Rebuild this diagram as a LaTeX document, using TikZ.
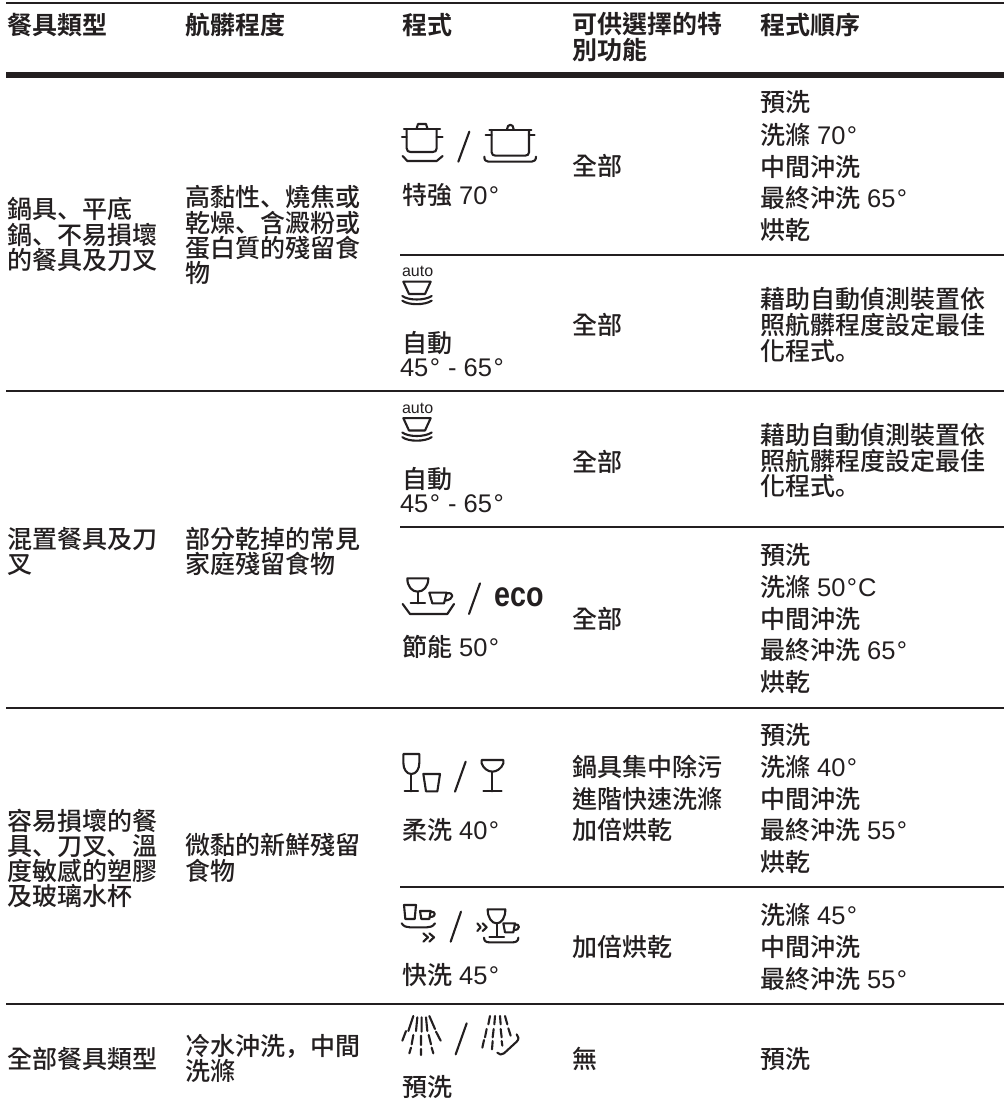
\documentclass[tikz,border=0pt]{standalone}
\usepackage{fontspec}
\setmainfont{Noto Sans CJK TC Medium}
\newfontfamily\cjkb{Noto Sans CJK TC Bold}
\newfontfamily\pctf{Noto Sans CJK SC Medium}
\newfontfamily\latf{Liberation Sans}
\newfontfamily\latb{Liberation Sans Bold}
\newcommand\lat[1]{{\latf\fontsize{25.5}{26}\selectfont{}#1}}
\newcommand\pct[1]{{\pctf{}#1}}
\catcode`\°=\active
\def°{\kern1.5pt\char"00B0\kern1pt\relax}
\definecolor{ink}{HTML}{231F20}
\newcounter{tn}
\newcommand\TT[3]{\stepcounter{tn}\node[txt] (t\arabic{tn}) at (#1,#2) {#3};}
\newcommand\TB[3]{\stepcounter{tn}\node[txt,font=\fontsize{25}{26}\cjkb] (t\arabic{tn}) at (#1,#2) {#3};}
\newcommand\autoicon[2]{%
\begin{scope}[shift={(#1,#2)},x=0.33333pt,y=-0.33333pt,icon]
\stepcounter{tn}\node[anchor=base west,inner sep=0,font=\fontsize{16}{16}\latf,text=ink] (t\arabic{tn}) at (33,560) {auto};
\draw (40,575) -- (122,575) -- (105,612) -- (57,612) -- cycle;
\draw (37,618) .. controls (55,632) and (105,632) .. (125,618);
\draw (37,632) .. controls (55,646) and (105,646) .. (125,632);
\end{scope}}
\tikzset{
 txt/.style={anchor=base west,inner sep=0,outer sep=0,text=ink,font=\fontsize{25}{26}\selectfont},
 icon/.style={draw=ink,line width=2.1pt,line cap=round,line join=round},
 thin rule/.style={draw=ink,line width=2pt},
 thick rule/.style={draw=ink,line width=6pt}}
\begin{document}
\begin{tikzpicture}[x=1pt,y=-1pt]
\useasboundingbox (0,0) rectangle (1004,1105);
\fill[white] (0,0) rectangle (1004,1105);
% rules
\draw[thin rule] (6,3) -- (1004,3);
\draw[thick rule] (6,75) -- (1004,75);
\draw[thin rule] (400,255) -- (1004,255);
\draw[thin rule] (6,391) -- (1004,391);
\draw[thin rule] (400,527) -- (1004,527);
\draw[thin rule] (6,708) -- (1004,708);
\draw[thin rule] (400,887) -- (1004,887);
\draw[thin rule] (6,1004) -- (1004,1004);
% header
\TB{7}{35}{餐具類型}
\TB{185}{35}{航髒程度}
\TB{402}{35}{程式}
\TB{572}{34}{可供選擇的特}
\TB{572}{60}{別功能}
\TB{760}{35}{程式順序}
% col 1
\TT{7}{218}{鍋具\pct{、}平底}
\TT{7}{244}{鍋\pct{、}不易損壞}
\TT{7}{269}{的餐具及刀叉}
\TT{7}{548}{混置餐具及刀}
\TT{7}{573}{叉}
\TT{7}{830}{容易損壞的餐}
\TT{7}{855}{具\pct{、}刀叉\pct{、}溫}
\TT{7}{880}{度敏感的塑膠}
\TT{7}{905}{及玻璃水杯}
\TT{7}{1068}{全部餐具類型}
% col 2
\TT{185}{206}{高黏性\pct{、}燒焦或}
\TT{185}{232}{乾燥\pct{、}含澱粉或}
\TT{185}{257}{蛋白質的殘留食}
\TT{185}{282}{物}
\TT{185}{548}{部分乾掉的常見}
\TT{185}{573}{家庭殘留食物}
\TT{185}{854}{微黏的新鮮殘留}
\TT{185}{880}{食物}
\TT{185}{1055}{冷水沖洗\pct{，}中間}
\TT{185}{1080}{洗滌}
% col 3 labels
\TT{402}{204}{特強\lat{ 70°}}
\TT{402}{352}{自動}
\TT{400}{376}{\lat{45° - 65°}}
\TT{402}{488.5}{自動}
\TT{400}{512.5}{\lat{45° - 65°}}
\TT{402}{656}{節能\lat{ 50°}}
\TT{402}{839}{柔洗\lat{ 40°}}
\TT{402}{984.5}{快洗\lat{ 45°}}
\TT{402}{1096}{預洗}
% col 4
\TT{572}{175.5}{全部}
\TT{572}{334.5}{全部}
\TT{572}{471.5}{全部}
\TT{572}{628.5}{全部}
\TT{572}{776}{鍋具集中除污}
\TT{572}{808}{進階快速洗滌}
\TT{572}{839.5}{加倍烘乾}
\TT{572}{956.5}{加倍烘乾}
\TT{572}{1068}{無}
% col 5
\TT{760}{112}{預洗}
\TT{760}{144}{洗滌\lat{ 70°}}
\TT{760}{176}{中間沖洗}
\TT{760}{207}{最終沖洗\lat{ 65°}}
\TT{760}{239}{烘乾}
\TT{760}{308}{藉助自動偵測裝置依}
\TT{760}{334}{照航髒程度設定最佳}
\TT{760}{360}{化程式\pct{。}}
\TT{760}{444.5}{藉助自動偵測裝置依}
\TT{760}{470}{照航髒程度設定最佳}
\TT{760}{495.5}{化程式\pct{。}}
\TT{760}{564.5}{預洗}
\TT{760}{596}{洗滌\lat{ 50°C}}
\TT{760}{628}{中間沖洗}
\TT{760}{659}{最終沖洗\lat{ 65°}}
\TT{760}{691}{烘乾}
\TT{760}{744.5}{預洗}
\TT{760}{776}{洗滌\lat{ 40°}}
\TT{760}{808}{中間沖洗}
\TT{760}{839.5}{最終沖洗\lat{ 55°}}
\TT{760}{871}{烘乾}
\TT{760}{924.5}{洗滌\lat{ 45°}}
\TT{760}{956.5}{中間沖洗}
\TT{760}{988}{最終沖洗\lat{ 55°}}
\TT{760}{1068}{預洗}
% pots
\begin{scope}[shift={(390,90)},x=0.33333pt,y=-0.33333pt,icon]
\draw (50,117) -- (50,175) .. controls (50,183) and (55,186) .. (62,186) -- (128,186) .. controls (135,186) and (140,183) .. (140,175) -- (140,117);
\draw (42,117) -- (150,117);
\draw (80,115) -- (84,102) -- (108,102) -- (112,115);
\draw (36,142) -- (50,142) (140,142) -- (158,142);
\draw (38,198) -- (52,213) -- (140,213) -- (158,198);
\draw (205,215) -- (238,125);
\draw (305,120) -- (305,187) .. controls (305,194) and (310,197) .. (317,197) -- (405,197) .. controls (412,197) and (417,194) .. (417,187) -- (417,120);
\draw (298,120) -- (424,120);
\draw (351,118) .. controls (351,100) and (371,100) .. (371,118);
\draw (287,134) -- (305,134) (417,134) -- (434,134);
\draw (283,200) .. controls (283,210) and (287,215) .. (295,215) -- (425,215) .. controls (433,215) and (438,210) .. (438,200);
\end{scope}
\autoicon{390}{90}
\autoicon{390}{226.5}
% eco
\begin{scope}[shift={(390,540)},x=0.33333pt,y=-0.33333pt,icon]
\draw (52,115) -- (115,115) .. controls (115,140) and (100,155) .. (83,155) .. controls (66,155) and (52,140) .. (52,115) -- cycle;
\draw (83,155) -- (83,190) (62,190) -- (105,190);
\draw (118,158) -- (170,158) -- (162,190) -- (127,190) -- cycle;
\draw (170,160) .. controls (192,155) and (195,178) .. (165,182);
\draw (38,192) -- (60,222) -- (172,222) -- (192,192);
\draw (237,222) -- (270,130);
\stepcounter{tn}\node[anchor=base west,inner sep=0,xscale=.82,font=\fontsize{35}{36}\latb,text=ink] (t\arabic{tn}) at (310,200) {eco};
\end{scope}
% glasses
\begin{scope}[shift={(390,700)},x=0.33333pt,y=-0.33333pt,icon]
\draw (40,162) -- (88,162) -- (88,188) .. controls (88,208) and (78,222) .. (64,222) .. controls (50,222) and (40,208) .. (40,188) -- cycle;
\draw (64,222) -- (64,274) (44,274) -- (84,274);
\draw (100,222) -- (150,222) -- (142,274) -- (108,274) -- cycle;
\draw (195,275) -- (227,185);
\draw (275,180) -- (340,180) -- (340,190) .. controls (335,205) and (320,215) .. (307,215) .. controls (294,215) and (280,205) .. (275,190) -- cycle;
\draw (307,215) -- (307,274) (280,274) -- (335,274);
\end{scope}
% quick
\begin{scope}[shift={(390,895)},x=0.33333pt,y=-0.33333pt,icon]
\draw (42,30) -- (78,30) -- (74,72) -- (46,72) -- cycle;
\draw (90,48) -- (122,48) -- (118,72) -- (94,72) -- cycle;
\draw (122,50) .. controls (138,48) and (140,66) .. (120,66);
\draw (35,85) .. controls (42,95) and (50,97) .. (60,97) -- (110,97) .. controls (120,97) and (128,95) .. (135,85);
\draw (100,115) -- (114,127) -- (100,140) (118,115) -- (132,127) -- (118,140);
\draw (182,140) -- (213,50);
\draw (293,43) -- (346,43) .. controls (346,68) and (335,85) .. (320,85) .. controls (305,85) and (293,68) .. (293,43) -- cycle;
\draw (320,85) -- (320,125) (298,125) -- (342,125);
\draw (340,85) -- (375,85) -- (370,112) -- (345,112) -- cycle;
\draw (375,88) .. controls (390,86) and (392,105) .. (372,105);
\draw (282,128) .. controls (282,138) and (288,142) .. (298,142) -- (368,142) .. controls (378,142) and (385,138) .. (385,128);
\draw (262,85) -- (272,97) -- (262,108) (278,85) -- (290,97) -- (278,108);
\end{scope}
% spray
\begin{scope}[shift={(390,1005)},x=0.33333pt,y=-0.33333pt,icon]
\draw (70,33) -- (55,78) (82,37) -- (78,78) (95,37) -- (95,80) (108,37) -- (112,78) (118,33) -- (135,72);
\draw (48,78) -- (37,107) (70,90) -- (65,118) (93,92) -- (93,120) (116,90) -- (123,118) (138,80) -- (152,107);
\draw (63,128) -- (58,145) (93,132) -- (93,150) (125,128) -- (130,145);
\draw (197,148) -- (230,55);
\draw (300,33) -- (295,58) (315,33) -- (313,58) (330,33) -- (332,58) (345,33) -- (352,58);
\draw (290,72) -- (285,97) (311,72) -- (308,97) (332,72) -- (335,97) (355,70) -- (362,92);
\draw (282,105) -- (277,128) (308,108) -- (306,133) (335,108) -- (337,122);
\draw (322,143) .. controls (328,150) and (335,150) .. (342,145) -- (380,110) .. controls (388,102) and (386,95) .. (380,88);
\end{scope}
\end{tikzpicture}
\end{document}
